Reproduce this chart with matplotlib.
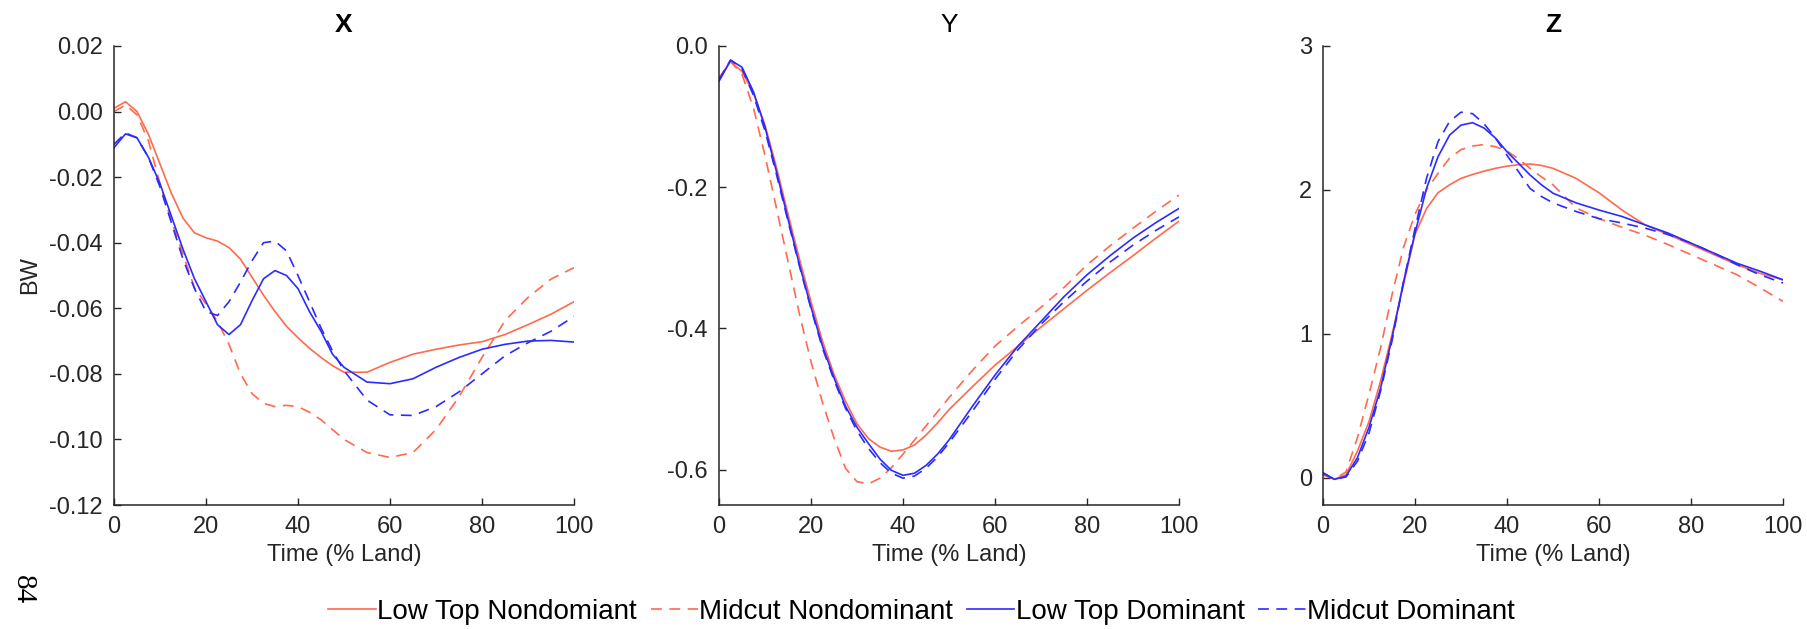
import numpy as np
import matplotlib
matplotlib.use('Agg')
import matplotlib.pyplot as plt

matplotlib.rcParams['font.family'] = 'Liberation Sans'
matplotlib.rcParams['axes.unicode_minus'] = False

# % of landing, finer steps in the first half
time_pct = [0, 2.5, 5, 7.5, 10, 12.5, 15, 17.5, 20, 22.5, 25, 27.5, 30, 32.5, 35,
            37.5, 40, 42.5, 45, 47.5, 50, 55, 60, 65, 70, 75, 80, 85, 90, 95, 100]

# X panel
x_low_nondom = [0.001, 0.003, 0.000, -0.007, -0.016, -0.025, -0.0325, -0.037, -0.0385, -0.0395,
                -0.0415, -0.045, -0.0505, -0.056, -0.061, -0.0655, -0.069, -0.0722, -0.075, -0.0775,
                -0.0795, -0.0795, -0.0765, -0.074, -0.0725, -0.0712, -0.0702, -0.068, -0.065, -0.0618, -0.058]
x_mid_nondom = [0.000, 0.002, -0.001, -0.009, -0.022, -0.0334, -0.0435, -0.0537, -0.0587, -0.064,
                -0.071, -0.080, -0.086, -0.089, -0.090, -0.0896, -0.090, -0.0917, -0.094, -0.097,
                -0.100, -0.104, -0.1055, -0.104, -0.097, -0.087, -0.075, -0.0638, -0.0567, -0.0511, -0.0476]
x_low_dom = [-0.011, -0.0068, -0.008, -0.014, -0.022, -0.032, -0.042, -0.051, -0.058, -0.065,
             -0.068, -0.065, -0.0577, -0.051, -0.0485, -0.050, -0.054, -0.061, -0.067, -0.074,
             -0.078, -0.0825, -0.083, -0.0815, -0.078, -0.075, -0.0725, -0.071, -0.070, -0.0698, -0.0703]
x_mid_dom = [-0.010, -0.0065, -0.008, -0.014, -0.023, -0.034, -0.045, -0.054, -0.061, -0.0622,
             -0.058, -0.052, -0.0455, -0.040, -0.0395, -0.0425, -0.050, -0.058, -0.066, -0.073,
             -0.079, -0.088, -0.0925, -0.0927, -0.090, -0.0855, -0.080, -0.0745, -0.0705, -0.067, -0.0625]

# Y panel
y_low_nondom = [-0.048, -0.022, -0.036, -0.067, -0.112, -0.172, -0.238, -0.302, -0.362, -0.418,
                -0.465, -0.503, -0.535, -0.556, -0.568, -0.574, -0.572, -0.565, -0.551, -0.534,
                -0.515, -0.483, -0.452, -0.425, -0.398, -0.372, -0.346, -0.321, -0.297, -0.272, -0.248]
y_mid_nondom = [-0.045, -0.022, -0.040, -0.088, -0.155, -0.230, -0.305, -0.380, -0.447, -0.505,
                -0.555, -0.598, -0.617, -0.620, -0.612, -0.597, -0.578, -0.558, -0.538, -0.518,
                -0.498, -0.460, -0.425, -0.397, -0.370, -0.342, -0.310, -0.283, -0.258, -0.234, -0.211]
y_low_dom = [-0.050, -0.020, -0.030, -0.065, -0.115, -0.178, -0.245, -0.310, -0.370, -0.425,
             -0.470, -0.510, -0.540, -0.563, -0.585, -0.601, -0.608, -0.605, -0.594, -0.578,
             -0.558, -0.511, -0.466, -0.425, -0.390, -0.355, -0.324, -0.297, -0.272, -0.250, -0.230]
y_mid_dom = [-0.048, -0.020, -0.032, -0.070, -0.120, -0.182, -0.248, -0.312, -0.372, -0.428,
             -0.473, -0.513, -0.545, -0.570, -0.590, -0.605, -0.612, -0.609, -0.598, -0.582,
             -0.562, -0.518, -0.472, -0.430, -0.394, -0.362, -0.333, -0.306, -0.282, -0.261, -0.242]

# Z panel
z_low_nondom = [0.02, -0.01, 0.02, 0.185, 0.39, 0.67, 0.995, 1.34, 1.69, 1.87,
                1.98, 2.035, 2.08, 2.107, 2.13, 2.15, 2.165, 2.175, 2.18, 2.17,
                2.15, 2.08, 1.98, 1.86, 1.757, 1.69, 1.62, 1.55, 1.48, 1.42, 1.375]
z_mid_nondom = [0.02, -0.01, 0.04, 0.28, 0.58, 0.90, 1.27, 1.60, 1.83, 2.00,
                2.115, 2.22, 2.28, 2.305, 2.315, 2.30, 2.27, 2.215, 2.15, 2.09,
                2.035, 1.875, 1.80, 1.74, 1.685, 1.62, 1.55, 1.48, 1.41, 1.32, 1.225]
z_low_dom = [0.035, -0.012, 0.01, 0.14, 0.35, 0.62, 0.97, 1.36, 1.70, 2.01,
             2.23, 2.38, 2.45, 2.467, 2.43, 2.36, 2.265, 2.185, 2.104, 2.035,
             1.977, 1.91, 1.86, 1.815, 1.757, 1.70, 1.63, 1.56, 1.49, 1.435, 1.375]
z_mid_dom = [0.03, -0.012, 0.005, 0.115, 0.31, 0.60, 0.95, 1.36, 1.73, 2.08,
             2.335, 2.475, 2.54, 2.53, 2.46, 2.36, 2.24, 2.127, 2.01, 1.954,
             1.91, 1.85, 1.80, 1.77, 1.734, 1.69, 1.63, 1.56, 1.48, 1.41, 1.353]

series_names = ['Low Top Nondomiant', 'Midcut Nondominant', 'Low Top Dominant', 'Midcut Dominant']
titles = ['X', 'Y', 'Z']
title_weights = ['bold', 'normal', 'bold']

orange = '#FF6A4D'
blue = '#2B2BFF'
axcol = '#262626'
styles = [(orange, '-'), (orange, '--'), (blue, '-'), (blue, '--')]

panels = [
    [x_low_nondom, x_mid_nondom, x_low_dom, x_mid_dom],
    [y_low_nondom, y_mid_nondom, y_low_dom, y_mid_dom],
    [z_low_nondom, z_mid_nondom, z_low_dom, z_mid_dom],
]
ylims = [(-0.12, 0.02), (-0.65, 0.0), (-0.19, 3.0)]
yticks = [np.arange(-0.12, 0.021, 0.02), [-0.6, -0.4, -0.2, 0.0], [0, 1, 2, 3]]
yfmt = ['{:.2f}', '{:.1f}', '{:.0f}']

fig = plt.figure(figsize=(18.07, 6.29), dpi=100)
lefts = [114, 719, 1323]
width = 460
bottom_px, top_px = 505, 46
W, H = 1807, 629

handles = []
for i in range(3):
    ax = fig.add_axes([lefts[i] / W, 1 - bottom_px / H, width / W, (bottom_px - top_px) / H])
    for j, vals in enumerate(panels[i]):
        c, ls = styles[j]
        ln, = ax.plot(time_pct, vals, color=c, linestyle=ls, lw=1.2,
                      label=series_names[j])
        if ls == '--':
            ln.set_dashes((6.5, 4.5))
        if i == 0:
            handles.append(ln)
    ax.set_xlim(0, 100)
    ax.set_ylim(*ylims[i])
    ax.set_xticks([0, 20, 40, 60, 80, 100])
    ax.set_yticks(yticks[i])
    ax.set_yticklabels([yfmt[i].format(v) for v in yticks[i]])
    ax.tick_params(direction='in', length=5, width=1, colors=axcol, labelsize=17, pad=8)
    for s in ['top', 'right']:
        ax.spines[s].set_visible(False)
    for s in ['left', 'bottom']:
        ax.spines[s].set_color(axcol)
        ax.spines[s].set_linewidth(1.1)
    ax.set_xlabel('Time (% Land)', fontsize=17, color=axcol, labelpad=4)
    ax.set_title(titles[i], fontsize=19, fontweight=title_weights[i], pad=10)
    if i == 0:
        ax.set_ylabel('BW', fontsize=17, color=axcol, labelpad=6)

fig.legend(handles=handles, loc='center', bbox_to_anchor=(0.51, 0.027), ncol=4,
           frameon=False, fontsize=20, handlelength=1.7, handletextpad=0.05,
           columnspacing=0.5)

fig.text(23 / W, 1 - 590 / H, '84', rotation=-90, fontsize=21,
         family='Liberation Serif', ha='center', va='center')

fig.savefig('out.png', dpi=100)
